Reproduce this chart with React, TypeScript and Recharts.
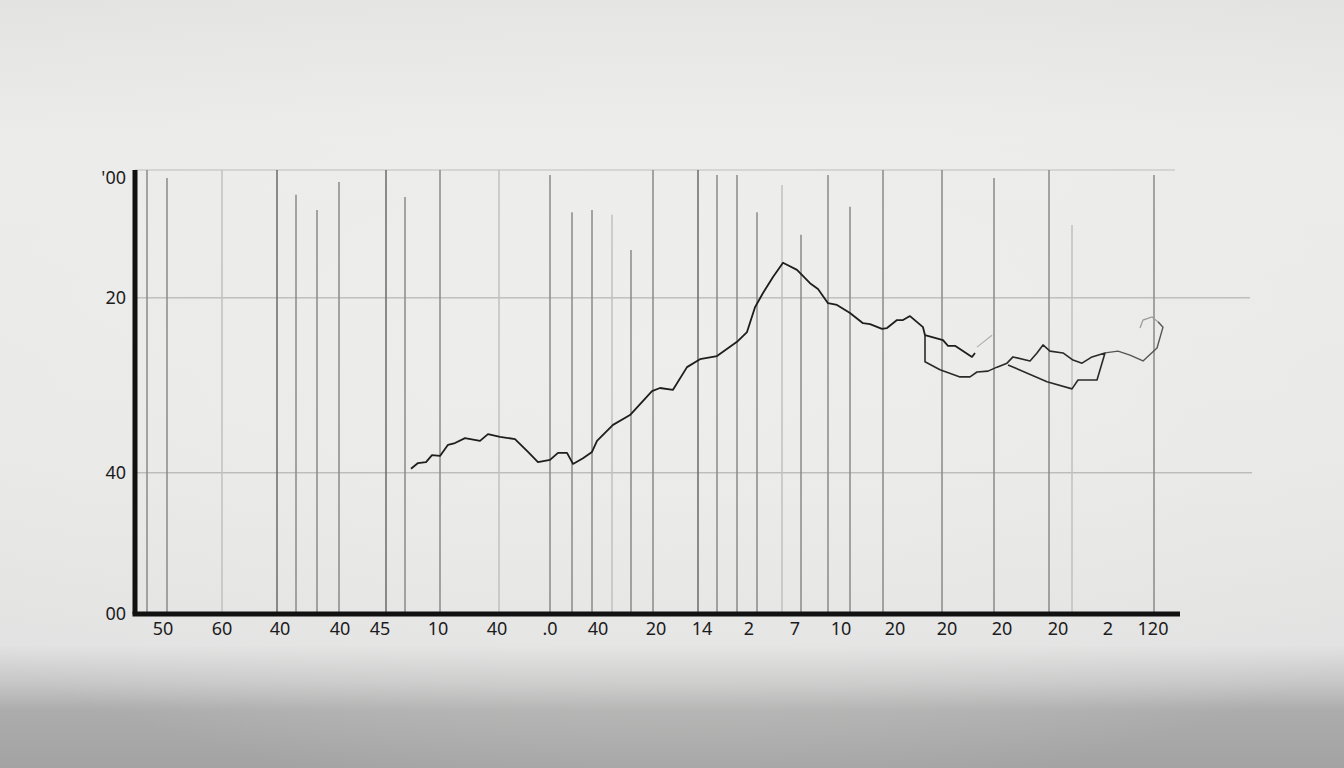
import React from 'react';
import { LineChart, Line, XAxis, YAxis, ReferenceLine } from 'recharts';

// x axis tick positions and their printed labels
const xTickPos = [2.8, 8.7, 14.5, 20.5, 24.5, 30.3, 36.2, 41.5, 46.3, 52.1, 56.7, 61.4, 66.0, 70.6, 76.0, 81.2, 86.7, 92.3, 97.3, 101.8];
const xTickLabels = ['50', '60', '40', '40', '45', '10', '40', '.0', '40', '20', '14', '2', '7', '10', '20', '20', '20', '20', '2', '120'];

// y axis ticks (uneven, as printed)
const yTickPos = [0, 31.8, 71.2, 98.2];
const yTickLabels = ['00', '40', '20', "'00"];

// vertical rules: x position, top value, tone
const ruleX = [1.2, 3.2, 8.7, 14.2, 16.1, 18.2, 20.4, 25.1, 27.0, 30.5, 36.4, 41.5, 43.7, 45.7, 47.7, 49.6, 51.8, 56.3, 58.2, 60.2, 62.2, 64.7, 66.6, 69.3, 71.5, 74.8, 80.7, 85.9, 91.4, 93.7, 101.9];
const ruleTop = [100, 98.2, 100, 100, 94.4, 91.0, 97.3, 100, 93.9, 100, 100, 98.9, 90.5, 91.0, 89.9, 82.0, 100, 100, 98.9, 98.9, 90.5, 96.6, 85.4, 98.9, 91.7, 100, 100, 98.2, 100, 87.6, 98.9];
const ruleTone = ['m', 'm', 'f', 'd', 'm', 'm', 'm', 'd', 'm', 'm', 'f', 'm', 'm', 'm', 'f', 'm', 'm', 'd', 'm', 'm', 'm', 'f', 'm', 'm', 'm', 'm', 'm', 'm', 'm', 'f', 'm'];

// horizontal guide lines: level and right end
const guideY = [100, 71.2, 31.8];
const guideEnd = [104, 111.5, 111.7];

const mainLine = [
  { x: 27.6, y: 32.7 }, { x: 28.3, y: 34.0 }, { x: 29.1, y: 34.2 }, { x: 29.7, y: 35.8 }, { x: 30.5, y: 35.6 },
  { x: 31.3, y: 38.1 }, { x: 32.0, y: 38.5 }, { x: 33.0, y: 39.6 }, { x: 34.5, y: 39.0 }, { x: 35.3, y: 40.5 },
  { x: 36.5, y: 39.9 }, { x: 38.0, y: 39.4 }, { x: 39.3, y: 36.5 }, { x: 40.3, y: 34.2 }, { x: 41.5, y: 34.7 },
  { x: 42.3, y: 36.3 }, { x: 43.2, y: 36.3 }, { x: 43.8, y: 33.8 }, { x: 44.8, y: 35.1 }, { x: 45.7, y: 36.5 },
  { x: 46.2, y: 39.0 }, { x: 47.8, y: 42.6 }, { x: 49.5, y: 44.8 }, { x: 51.7, y: 50.2 }, { x: 52.5, y: 50.9 },
  { x: 53.8, y: 50.5 }, { x: 55.2, y: 55.6 }, { x: 56.5, y: 57.4 }, { x: 58.2, y: 58.1 }, { x: 60.2, y: 61.3 },
  { x: 61.2, y: 63.5 }, { x: 62.0, y: 69.1 }, { x: 62.8, y: 72.3 }, { x: 63.8, y: 75.9 }, { x: 64.8, y: 79.1 },
  { x: 66.2, y: 77.5 }, { x: 67.5, y: 74.5 }, { x: 68.3, y: 73.2 }, { x: 69.3, y: 70.0 }, { x: 70.2, y: 69.6 },
  { x: 71.5, y: 67.8 }, { x: 72.8, y: 65.5 }, { x: 73.5, y: 65.3 }, { x: 74.7, y: 64.2 }, { x: 75.2, y: 64.4 },
  { x: 76.2, y: 66.2 }, { x: 76.8, y: 66.2 }, { x: 77.5, y: 67.1 }, { x: 78.8, y: 64.6 }, { x: 79.0, y: 62.8 },
  { x: 80.8, y: 61.7 }, { x: 81.3, y: 60.4 }, { x: 82.0, y: 60.4 }, { x: 83.7, y: 57.9 }, { x: 84.0, y: 58.8 },
];

const loopLine = [
  { x: 79.0, y: 62.8 }, { x: 79.0, y: 56.8 }, { x: 80.5, y: 55.0 }, { x: 82.5, y: 53.4 }, { x: 83.5, y: 53.4 },
  { x: 84.2, y: 54.5 }, { x: 85.3, y: 54.7 }, { x: 86.2, y: 55.6 }, { x: 87.2, y: 56.5 }, { x: 87.8, y: 57.9 },
  { x: 89.5, y: 57.0 }, { x: 90.2, y: 58.8 }, { x: 90.8, y: 60.6 }, { x: 91.5, y: 59.2 }, { x: 92.8, y: 58.8 },
  { x: 93.8, y: 57.2 }, { x: 94.7, y: 56.5 }, { x: 95.7, y: 57.9 }, { x: 97.0, y: 58.8 }, { x: 96.2, y: 52.7 },
  { x: 94.3, y: 52.7 }, { x: 93.7, y: 50.7 }, { x: 91.2, y: 52.3 }, { x: 87.3, y: 56.1 },
];

const tailLine = [
  { x: 97.0, y: 58.8 }, { x: 98.3, y: 59.2 }, { x: 99.5, y: 58.3 }, { x: 100.8, y: 57.0 }, { x: 102.2, y: 59.9 },
  { x: 102.8, y: 64.6 }, { x: 102.3, y: 65.8 },
];

const faintA = [{ x: 84.2, y: 60.1 }, { x: 85.7, y: 62.8 }];
const faintB = [{ x: 102.3, y: 65.8 }, { x: 101.7, y: 66.9 }, { x: 100.8, y: 66.2 }, { x: 100.5, y: 64.4 }];

const toneColor: Record<string, string> = { d: '#6a6a6a', m: '#8a8a8a', f: '#c0c0c0' };
const font = '"Noto Sans", "DejaVu Sans", sans-serif';

export default function App() {
  return (
    <div
      style={{
        position: 'absolute',
        left: 0,
        top: 0,
        width: 1344,
        height: 768,
        background:
          'radial-gradient(ellipse 70% 60% at 50% 45%, rgba(240,240,238,0.7), rgba(240,240,238,0) 100%), linear-gradient(to bottom, #e3e3e1 0%, #ebebe9 18%, #e8e8e6 60%, #e2e2e2 84%, #c6c6c6 89%, #acacac 92.5%, #a3a3a3 100%)',
      }}
    >
      <LineChart width={1344} height={768} margin={{ top: 170, right: 92, bottom: 124, left: 105 }}>
        <XAxis
          type="number"
          dataKey="x"
          domain={[0, 111.7]}
          ticks={xTickPos}
          interval={0}
          tickFormatter={(_v: number, i: number) => xTickLabels[i]}
          axisLine={false}
          tickLine={false}
          tickMargin={2}
          tick={{ fill: '#1c1c1c', fontSize: 18, fontFamily: font }}
          height={30}
        />
        <YAxis
          type="number"
          dataKey="y"
          domain={[0, 100]}
          ticks={yTickPos}
          interval={0}
          tickFormatter={(_v: number, i: number) => yTickLabels[i]}
          axisLine={{ stroke: '#111', strokeWidth: 5 }}
          tickLine={false}
          tickMargin={3}
          tick={{ fill: '#1c1c1c', fontSize: 18, fontFamily: font }}
          width={30}
        />
        {guideY.map((g, i) => (
          <ReferenceLine
            key={'g' + i}
            segment={[{ x: 0, y: g }, { x: guideEnd[i], y: g }]}
            stroke={i === 0 ? '#bdbdbd' : '#a8a8a8'}
            strokeWidth={1}
          />
        ))}
        {ruleX.map((x, i) => (
          <ReferenceLine
            key={'r' + i}
            segment={[{ x, y: 0 }, { x, y: ruleTop[i] }]}
            stroke={toneColor[ruleTone[i]]}
            strokeWidth={1.5}
          />
        ))}
        <ReferenceLine
          segment={[{ x: -0.25, y: 0 }, { x: 104.5, y: 0 }]}
          ifOverflow="visible"
          stroke="#111"
          strokeWidth={5}
        />
        <Line data={faintA} dataKey="y" type="linear" stroke="#b0b0b0" strokeWidth={1.2} dot={false} isAnimationActive={false} />
        <Line data={faintB} dataKey="y" type="linear" stroke="#9a9a9a" strokeWidth={1.2} dot={false} isAnimationActive={false} />
        <Line data={mainLine} dataKey="y" type="linear" stroke="#1e1e1e" strokeWidth={1.8} strokeLinejoin="round" dot={false} isAnimationActive={false} />
        <Line data={loopLine} dataKey="y" type="linear" stroke="#2a2a2a" strokeWidth={1.6} strokeLinejoin="round" dot={false} isAnimationActive={false} />
        <Line data={tailLine} dataKey="y" type="linear" stroke="#555" strokeWidth={1.4} strokeLinejoin="round" dot={false} isAnimationActive={false} />
      </LineChart>
    </div>
  );
}
